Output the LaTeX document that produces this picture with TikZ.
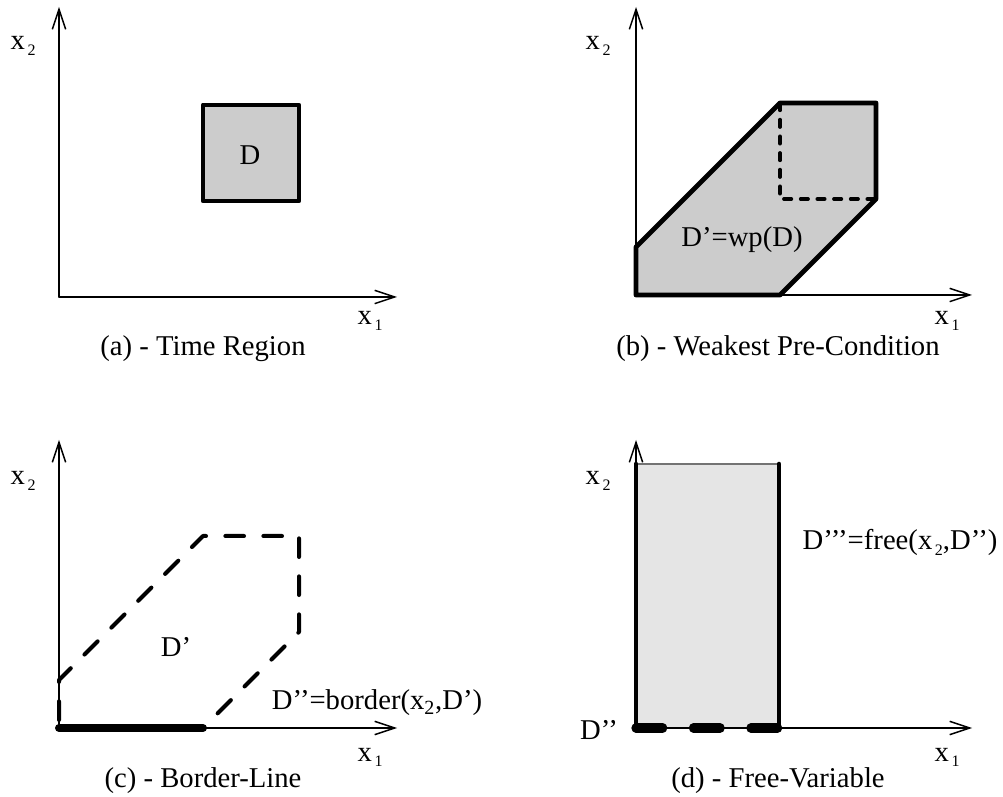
\documentclass[tikz,border=0pt]{standalone}
\usepackage{fontspec}
\setmainfont{Liberation Serif}
\usetikzlibrary{arrows.meta}
% small lowered index, as in x_1, x_2
\newcommand{\lowidx}[1]{\kern2pt\raisebox{-0.45ex}{\fontsize{12}{12}\selectfont #1}}

\begin{document}
\begin{tikzpicture}[x=0.75pt, y=0.75pt, line cap=round, line join=round,
  >={Straight Barb[length=15pt,width=10pt,line width=1.1pt]},
  font=\fontsize{21.5}{25}\selectfont,
  axis/.style={->, line width=1.1pt},
  region/.style={draw, line width=3.6pt, fill=black!20},
  txt/.style={anchor=base, inner sep=0pt}]
  \useasboundingbox (0,0) rectangle (1003,796);

  % (a) time region
  \begin{scope}[shift={(59,499)}]
    \coordinate (Oa) at (0,0);
    \coordinate (Xa) at (338,0);
    \coordinate (Ya) at (0,290);
    \draw[axis] (Oa) -- (Xa);
    \draw[axis] (Oa) -- (Ya);
    \draw[region] (144,96) rectangle (240,192);
    \node[txt] (Da) at (191,132) {D};
    \node[txt] (x2a) at (-36,247) {x\lowidx{2}};
    \node[txt] (x1a) at (311,-28) {x\lowidx{1}};
    \node[txt] (capa) at (144,-59) {(a) - Time Region};
  \end{scope}

  % (b) weakest pre-condition
  \begin{scope}[shift={(636,501)}]
    \coordinate (Ob) at (0,0);
    \coordinate (Xb) at (336,0);
    \coordinate (Yb) at (0,288);
    \draw[axis] (Ob) -- (Xb);
    \draw[axis] (Ob) -- (Yb);
    \draw[region] (0,0) -- (144,0) -- (240,96) -- (240,192) -- (144,192) -- (0,48) -- cycle;
    % the old region D
    \draw[line width=2.8pt, dash pattern=on 5.5pt off 7pt] (144,192) -- (144,96) -- (240,96);
    \node[txt] (Db) at (106,48) {D’=wp(D)};
    \node[txt] (x2b) at (-38,245) {x\lowidx{2}};
    \node[txt] (x1b) at (311,-30) {x\lowidx{1}};
    \node[txt] (capb) at (142,-61) {(b) - Weakest Pre-Condition};
  \end{scope}

  % (c) border line
  \begin{scope}[shift={(59,68)}]
    \coordinate (Oc) at (0,0);
    \coordinate (Xc) at (338,0);
    \coordinate (Yc) at (0,288);
    \draw[axis] (Oc) -- (Xc);
    \draw[axis] (Oc) -- (Yc);
    \draw[line width=3pt, dash pattern=on 14pt off 14.5pt, dash phase=-6pt]
      (0,0) -- (0,48) -- (144,192) -- (240,192) -- (240,96) -- (144,0);
    \draw[line width=6pt] (Oc) -- (144,0);
    \node[txt] (Dc) at (117,71) {D’};
    \node[txt] (Bc) at (318,18) {D’’=border(x\textsubscript{2},D’)};
    \node[txt] (x2c) at (-36,243) {x\lowidx{2}};
    \node[txt] (x1c) at (311,-33) {x\lowidx{1}};
    \node[txt] (capc) at (144,-60) {(c) - Border-Line};
  \end{scope}

  % (d) free variable
  \begin{scope}[shift={(636,68)}]
    \coordinate (Od) at (0,0);
    \coordinate (Xd) at (336,0);
    \coordinate (Yd) at (0,288);
    \fill[black!10] (0,0) rectangle (143,264);
    \draw[black!55, line width=0.8pt] (0,264) -- (143,264);
    \draw[axis] (Od) -- (Xd);
    \draw[axis] (Od) -- (Yd);
    \draw[line width=3.4pt] (0,0) -- (0,264);
    \draw[line width=3.4pt] (143,0) -- (143,264);
    \draw[line width=7pt, dash pattern=on 20pt off 23.1pt] (Od) -- (143,0);
    \node[txt] (Dd) at (-37,-12) {D’’};
    \node[txt] (Fd) at (264,178) {D’’’=free(x\lowidx{2},D’’)};
    \node[txt] (x2d) at (-38,243) {x\lowidx{2}};
    \node[txt] (x1d) at (311,-33) {x\lowidx{1}};
    \node[txt] (capd) at (142,-60) {(d) - Free-Variable};
  \end{scope}
\end{tikzpicture}
\end{document}
